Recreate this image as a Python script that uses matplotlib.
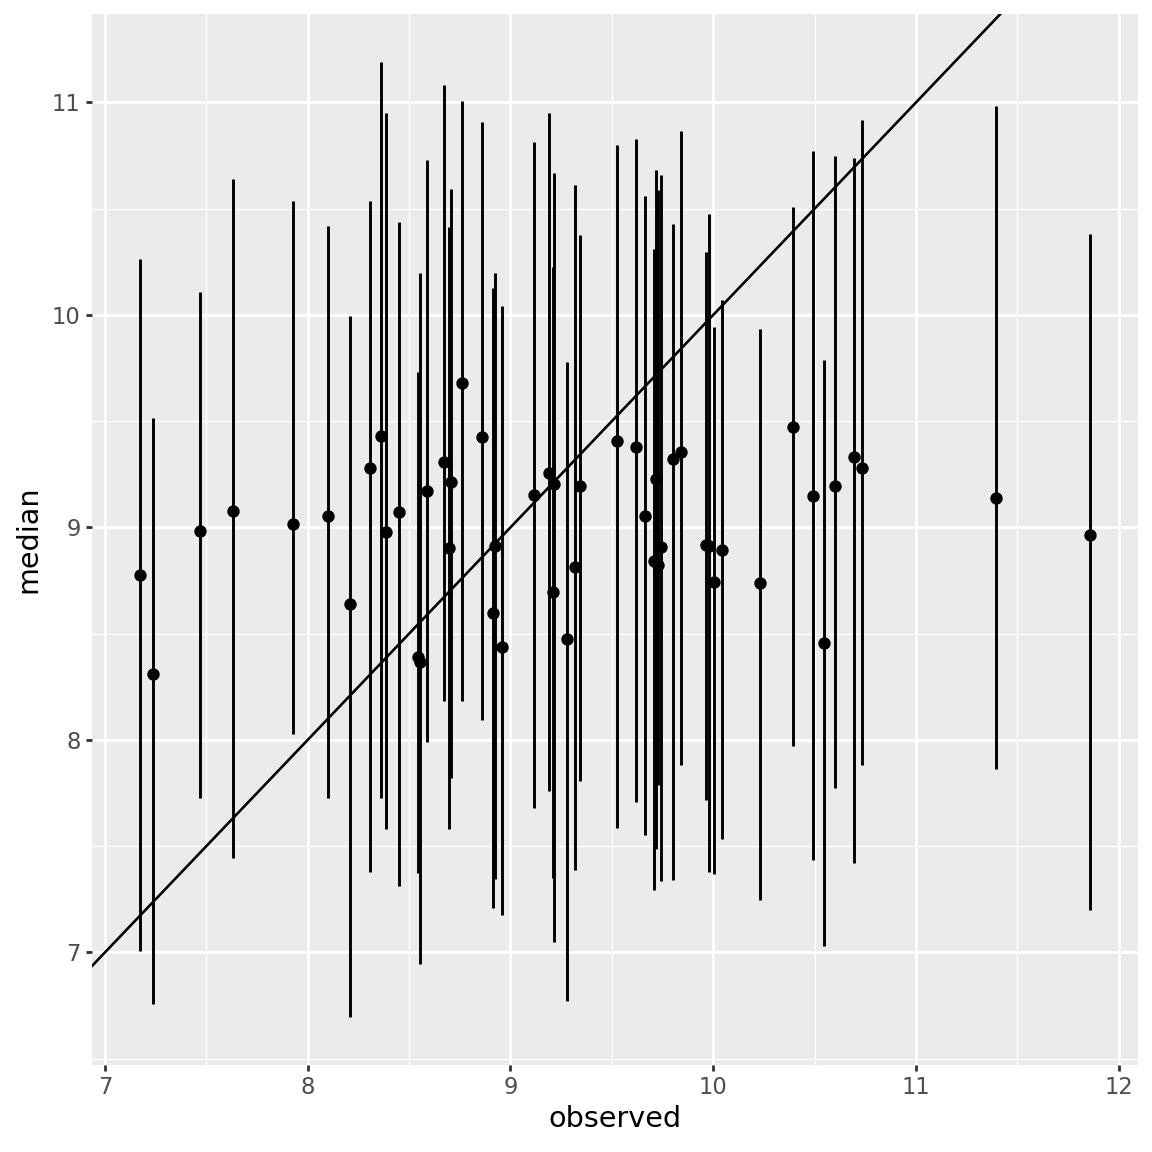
import matplotlib.pyplot as plt
import numpy as np

observed = np.array([7.171, 7.235, 7.467, 7.634, 7.930, 8.098, 8.207, 8.305, 8.360, 8.384,
                     8.448, 8.544, 8.552, 8.587, 8.674, 8.697, 8.707, 8.759, 8.858, 8.914,
                     8.922, 8.959, 9.118, 9.192, 9.210, 9.215, 9.281, 9.317, 9.341, 9.527,
                     9.618, 9.663, 9.710, 9.720, 9.726, 9.740, 9.800, 9.840, 9.963, 9.981,
                     10.006, 10.042, 10.233, 10.392, 10.493, 10.544, 10.599, 10.692, 10.733,
                     11.394, 11.860])
median = np.array([8.778, 8.308, 8.982, 9.077, 9.018, 9.055, 8.642, 9.281, 9.428, 8.980,
                   9.074, 8.392, 8.369, 9.173, 9.310, 8.905, 9.216, 9.681, 9.427, 8.595,
                   8.914, 8.439, 9.154, 9.258, 8.698, 9.206, 8.477, 8.816, 9.193, 9.406,
                   9.380, 9.055, 8.844, 9.230, 8.825, 8.907, 9.323, 9.356, 8.919, 8.912,
                   8.745, 8.893, 8.740, 9.474, 9.149, 8.458, 9.196, 9.330, 9.281,
                   9.140, 8.966])
upper = np.array([10.261, 9.516, 10.109, 10.640, 10.537, 10.419, 9.996, 10.537, 11.191, 10.950,
                  10.438, 9.732, 10.198, 10.729, 11.082, 10.414, 10.593, 11.006, 10.908, 10.127,
                  10.198, 10.043, 10.814, 10.950, 10.226, 10.666, 9.779, 10.612, 10.377, 10.800,
                  10.828, 10.560, 10.311, 10.682, 10.588, 10.659, 10.428, 10.866, 10.297, 10.475,
                  9.944, 10.071, 9.935, 10.508, 10.772, 9.787, 10.748, 10.739, 10.917,
                  10.983, 10.381])
lower = np.array([7.008, 6.756, 7.729, 7.443, 8.026, 7.725, 6.695, 7.377, 7.729, 7.579,
                  7.311, 7.372, 6.944, 7.988, 8.185, 7.579, 7.819, 8.185, 8.096, 7.207,
                  7.344, 7.175, 7.678, 7.758, 7.349, 7.048, 6.770, 7.386, 7.805, 7.584,
                  7.706, 7.551, 7.292, 7.485, 7.786, 7.334, 7.339, 7.880, 7.715, 7.377,
                  7.368, 7.532, 7.245, 7.970, 7.433, 7.029, 7.772, 7.419, 7.880,
                  7.861, 7.198])

fig = plt.figure(figsize=(8, 8), dpi=144)
ax = fig.add_axes([0.0799, 0.0755, 0.9079, 0.9123])

ax.set_facecolor('#EBEBEB')
for s in ax.spines.values():
    s.set_visible(False)

ax.vlines(observed, lower, upper, color='black', linewidth=1.45, zorder=3)
ax.plot(observed, median, 'o', color='black', markersize=5.2, zorder=4)
ax.axline((0, 0), slope=1, color='black', linewidth=1.3, zorder=5)

ax.set_xticks([7, 8, 9, 10, 11, 12])
ax.set_yticks([7, 8, 9, 10, 11])
ax.set_xticks(np.arange(7.5, 12, 1), minor=True)
ax.set_yticks(np.arange(6.5, 11.6, 1), minor=True)

# ggplot-style 5% expansion (set after the ticks so they do not widen it)
xr = observed.max() - observed.min()
yr = upper.max() - lower.min()
ax.set_xlim(observed.min() - 0.05 * xr, observed.max() + 0.05 * xr)
ax.set_ylim(lower.min() - 0.05 * yr, upper.max() + 0.05 * yr)

ax.grid(which='major', color='white', linewidth=1.4)
ax.grid(which='minor', color='white', linewidth=0.7)
ax.set_axisbelow(True)
ax.tick_params(which='major', length=3.2, width=1.4, color='#333333',
               labelcolor='#4D4D4D', labelsize=11.3, pad=2.5)
ax.tick_params(which='minor', length=0)

ax.set_xlabel('observed', fontsize=14.3, labelpad=3)
ax.set_ylabel('median', fontsize=14.3, labelpad=5)

fig.savefig('out.png', dpi=144)
